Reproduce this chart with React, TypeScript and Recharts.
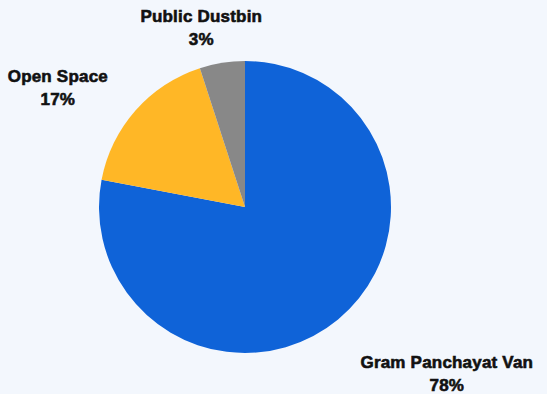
import React from "react";
import { PieChart, Pie, Cell } from "recharts";

const categories = ["Gram Panchayat Van", "Open Space", "Public Dustbin"];
const values = [78, 17, 5];
const percentLabels = ["78%", "17%", "3%"];
const colors = ["#0F63D8", "#FFB726", "#888888"];

const data = categories.map((name, i) => ({ name, value: values[i] }));

const FONT_SIZE = 17;
const FONT_FAMILY = "'Liberation Sans', Arial, sans-serif";
const RADIAN = Math.PI / 180;

let ctx: CanvasRenderingContext2D | null = null;
function measure(text: string): number {
  if (!ctx) {
    ctx = document.createElement("canvas").getContext("2d");
  }
  if (!ctx) return text.length * FONT_SIZE * 0.6;
  ctx.font = `bold ${FONT_SIZE}px ${FONT_FAMILY}`;
  return ctx.measureText(text).width;
}

function renderLabel(props: any) {
  const { cx, cy, midAngle, outerRadius, index } = props;
  const name = categories[index];
  const pct = percentLabels[index];
  const cos = Math.cos(-midAngle * RADIAN);
  const sin = Math.sin(-midAngle * RADIAN);
  const r = outerRadius + 38;
  const ax = cx + r * cos;
  const ay = cy + r * sin;
  const w = Math.max(measure(name), measure(pct));
  const bx = ax + Math.sign(cos) * Math.min(1, Math.abs(cos) * 1.6) * (w / 2);
  const by = ay + Math.max(0, sin) * 30 + 2;
  const lh = 23;
  return (
    <text
      textAnchor="middle"
      fontFamily={FONT_FAMILY}
      fontWeight="bold"
      fontSize={FONT_SIZE}
      fill="#111"
      stroke="#111"
      strokeWidth={0.6}
      letterSpacing={0.2}
    >
      <tspan x={bx} y={by - lh / 2 + 6}>{name}</tspan>
      <tspan x={bx} y={by + lh / 2 + 6}>{pct}</tspan>
    </text>
  );
}

export default function App() {
  return (
    <div
      style={{
        position: "fixed",
        left: 0,
        top: 0,
        width: 547,
        height: 394,
        background: "#F3F7FD",
      }}
    >
      <PieChart width={547} height={394} margin={{ top: 0, right: 0, bottom: 0, left: 0 }}>
        <Pie
          data={data}
          dataKey="value"
          nameKey="name"
          cx={245}
          cy={207}
          outerRadius={146}
          startAngle={90}
          endAngle={-270}
          stroke="none"
          label={renderLabel}
          labelLine={false}
          isAnimationActive={false}
        >
          {data.map((d, i) => (
            <Cell key={d.name} fill={colors[i]} />
          ))}
        </Pie>
      </PieChart>
    </div>
  );
}
